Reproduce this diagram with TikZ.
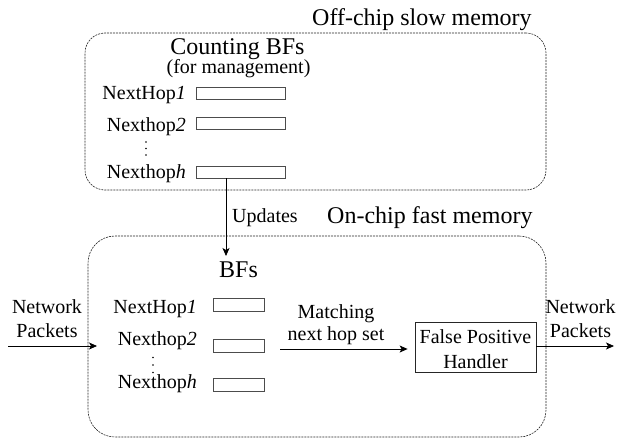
\documentclass[tikz,border=0pt]{standalone}
\usepackage{fontspec}
\setmainfont{Liberation Serif}
\usetikzlibrary{arrows.meta}
\newcommand{\twoline}[2]{\begin{tabular}[t]{@{}c@{}}#1\\#2\end{tabular}}
\begin{document}
\begin{tikzpicture}[x=1pt,y=-1pt,
  big/.style={font=\fontsize{24}{28}\selectfont, inner sep=0pt},
  txt/.style={font=\fontsize{20}{24}\selectfont, inner sep=0pt},
  membox/.style={draw=black!85, line width=0.6pt, dash pattern=on 2pt off 1pt, rounded corners=#1, inner sep=0pt},
  bfbar/.style={draw=black!70, line width=0.9pt, inner sep=0pt, minimum width=#1},
  arr/.style={-{Stealth[length=8pt,width=7pt,inset=2pt]}, line width=0.8pt},
  dotc/.style={fill=black, circle, inner sep=0pt, minimum size=1.6pt}
]
\useasboundingbox (0,0) rectangle (617,439);

% memory boxes
\node[membox=20pt, minimum width=461pt, minimum height=157pt] (off) at (315.5,111.5) {};
\node[membox=27pt, minimum width=458pt, minimum height=201pt] (on) at (317,336.5) {};
\node[big, anchor=base west] (offt) at (312,25) {Off-chip slow memory};
\node[big, anchor=base west] (ont) at (327,223) {On-chip fast memory};

% counting BFs
\node[big, anchor=base] (cbf) at (237.5,54) {Counting BFs};
\node[txt, anchor=base] (mgmt) at (238.5,73) {(for management)};
\node[txt, anchor=base east] (tl1) at (186,99) {NextHop\textit{1}};
\node[txt, anchor=base east] (tl2) at (186,131) {Nexthop\textit{2}};
\node[txt, anchor=base east] (tlh) at (186,178) {Nexthop\textit{h}};
\node[bfbar=89pt, minimum height=12pt] (t1) at (240.5,93) {};
\node[bfbar=89pt, minimum height=12pt] (t2) at (240.5,123) {};
\node[bfbar=89pt, minimum height=12pt] (th) at (240.5,172) {};
\node[dotc] (td1) at (146,142) {};
\node[dotc] (td2) at (146,148.5) {};
\node[dotc] (td3) at (146,155) {};

% updates arrow
\coordinate (ua) at (226,256);
\draw[arr] (th.south -| ua) -- (ua);
\node[txt, anchor=base west] (upd) at (232,222) {Updates};

% BFs
\node[big, anchor=base] (bft) at (238.5,277) {BFs};
\node[txt, anchor=base east] (bl1) at (197,313) {NextHop\textit{1}};
\node[txt, anchor=base east] (bl2) at (197,345) {Nexthop\textit{2}};
\node[txt, anchor=base east] (blh) at (197,388) {Nexthop\textit{h}};
\node[bfbar=51pt, minimum height=13pt] (b1) at (238.5,305) {};
\node[bfbar=51pt, minimum height=13pt] (b2) at (238.5,345.5) {};
\node[bfbar=51pt, minimum height=13pt] (bh) at (238.5,384.5) {};
\node[dotc] (bd1) at (153,357.5) {};
\node[dotc] (bd2) at (153,365) {};
\node[dotc] (bd3) at (153,372.5) {};

% false positive handler
\node[draw=black!85, line width=0.8pt, minimum width=121pt, minimum height=50pt, inner sep=0pt] (fp) at (475.5,347) {};
\node[font=\fontsize{20}{25}\selectfont, inner sep=0pt, anchor=base] (fpt) at (475.5,343) {\twoline{False Positive}{Handler}};

% matching arrow
\coordinate (m1) at (280,349);
\draw[arr, shorten >=7pt] (m1) -- (m1 -| fp.west);
\node[font=\fontsize{20}{22}\selectfont, inner sep=0pt, anchor=base] (match) at (336,318) {\twoline{Matching}{next hop set}};

% input / output
\coordinate (in0) at (8,346);
\coordinate (in1) at (97,346);
\draw[arr] (in0) -- (in1);
\node[txt, anchor=base] (inl) at (47,313) {\twoline{Network}{Packets}};
\coordinate (out1) at (614,346);
\draw[arr] (fp.east |- out1) -- (out1);
\node[txt, anchor=base] (outl) at (580.5,313) {\twoline{Network}{Packets}};
\end{tikzpicture}
\end{document}
